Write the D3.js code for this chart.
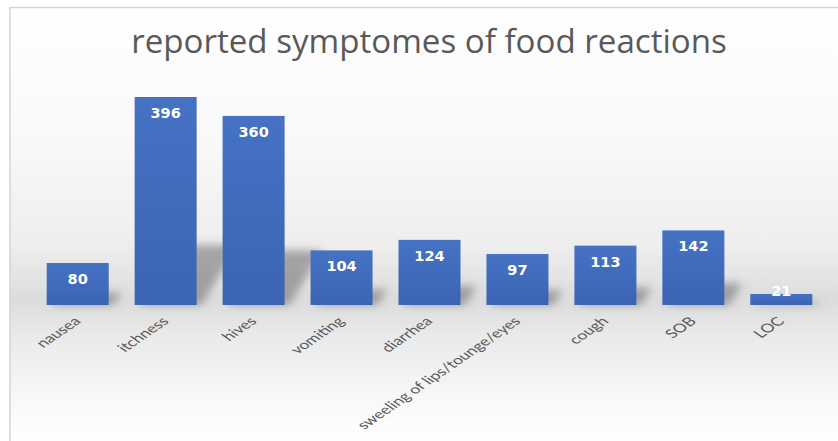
<!DOCTYPE html>
<html>
<head>
<meta charset="utf-8">
<script src="https://cdn.jsdelivr.net/npm/d3@7"></script>
<style>
  html, body { margin: 0; padding: 0; background: #ffffff; }
  svg { display: block; }
</style>
</head>
<body>
<script>
// Symptom categories and reported counts
const categories = ["nausea", "itchness", "hives", "vomiting", "diarrhea",
  "sweeling of lips/tounge/eyes", "cough", "SOB", "LOC"];
const counts = [80, 396, 360, 104, 124, 97, 113, 142, 21];
const titleText = "reported symptomes of food reactions";

const W = 838, H = 441;
const baseY = 305;
const x0 = 33.5, x1 = 825.5;

const svg = d3.select("body").append("svg")
  .attr("width", W).attr("height", H);

const defs = svg.append("defs");

// soft floor-style background
const bg = defs.append("linearGradient").attr("id", "bgGrad")
  .attr("gradientUnits", "userSpaceOnUse")
  .attr("x1", 0).attr("y1", 7).attr("x2", 0).attr("y2", 441);
[[0, "#ffffff"], [0.3, "#f9f9f9"], [0.55, "#eeeeee"], [0.675, "#dcdcdc"],
 [0.76, "#eaeaea"], [0.9, "#f8f8f8"], [1, "#ffffff"]]
  .forEach(([o, c]) => bg.append("stop").attr("offset", o).attr("stop-color", c));

const barGrad = defs.append("linearGradient").attr("id", "barGrad")
  .attr("x1", 0).attr("y1", 0).attr("x2", 0).attr("y2", 1);
barGrad.append("stop").attr("offset", 0).attr("stop-color", "#4672c4");
barGrad.append("stop").attr("offset", 1).attr("stop-color", "#3b64b3");

defs.append("filter").attr("id", "shadowBlur")
  .attr("x", "-50%").attr("y", "-50%").attr("width", "200%").attr("height", "200%")
  .append("feGaussianBlur").attr("stdDeviation", 4);

svg.append("rect")
  .attr("x", 10).attr("y", 7.5).attr("width", W).attr("height", H)
  .attr("fill", "url(#bgGrad)").attr("stroke", "#d4d4d4").attr("stroke-width", 1.5);

const x = d3.scaleBand().domain(categories).range([x0, x1]).paddingInner(0.295).paddingOuter(0.15);
const y = d3.scaleLinear().domain([0, 396]).range([baseY, 97]);

// perspective shadows cast behind the bars
const shadows = svg.append("g").attr("filter", "url(#shadowBlur)");
categories.forEach((c, i) => {
  const bx = x(c), bw = x.bandwidth();
  const h = (baseY - y(counts[i])) * 0.29;
  const dx = h * 0.6;
  shadows.append("path")
    .attr("d", `M${bx + 4},${baseY} L${bx + bw + 5},${baseY} L${bx + bw + dx + 5},${baseY - h} L${bx + dx + 6},${baseY - h} Z`)
    .attr("fill", "#6a6a6a").attr("opacity", 0.55);
});

// bars
svg.append("g").selectAll("rect").data(categories).join("rect")
  .attr("x", d => x(d))
  .attr("y", (d, i) => y(counts[i]))
  .attr("width", x.bandwidth())
  .attr("height", (d, i) => baseY - y(counts[i]))
  .attr("fill", "url(#barGrad)");

// value labels inside bar tops (kept above the baseline for short bars)
svg.append("g").selectAll("text").data(categories).join("text")
  .attr("x", d => x(d) + x.bandwidth() / 2)
  .attr("y", (d, i) => Math.min(y(counts[i]) + 21, baseY - 9))
  .attr("text-anchor", "middle")
  .attr("font-family", "DejaVu Sans, Verdana, sans-serif")
  .attr("font-weight", "bold")
  .attr("font-size", 14.5)
  .attr("fill", "#ffffff")
  .text((d, i) => counts[i]);

// category axis: labels rotated 45° inside a horizontally widened frame
const axis = d3.axisBottom(x).tickSize(0).tickPadding(0);
const ax = svg.append("g").attr("transform", `translate(0,${baseY})`).call(axis);
ax.select(".domain").remove();
const labels = ax.selectAll("text")
  .attr("font-family", "Lato, sans-serif")
  .attr("font-size", 14)
  .attr("fill", "#595959")
  .attr("text-anchor", "end")
  .attr("y", 0).attr("dy", 0)
  .attr("transform", "translate(4,17) scale(1.455,1) rotate(-45)");
// size the font so the longest label spans its intended length
let longest = 0;
labels.each(function () { longest = Math.max(longest, this.getComputedTextLength()); });
labels.attr("font-size", 14 * 153 / longest);

// title
const title = svg.append("text")
  .attr("x", 429).attr("y", 53)
  .attr("text-anchor", "middle")
  .attr("font-family", "Open Sans, sans-serif")
  .attr("font-size", 30)
  .attr("fill", "#595959")
  .text(titleText);
const tw = title.node().getComputedTextLength();
title.attr("font-size", 30 * 596 / tw);
</script>
</body>
</html>
